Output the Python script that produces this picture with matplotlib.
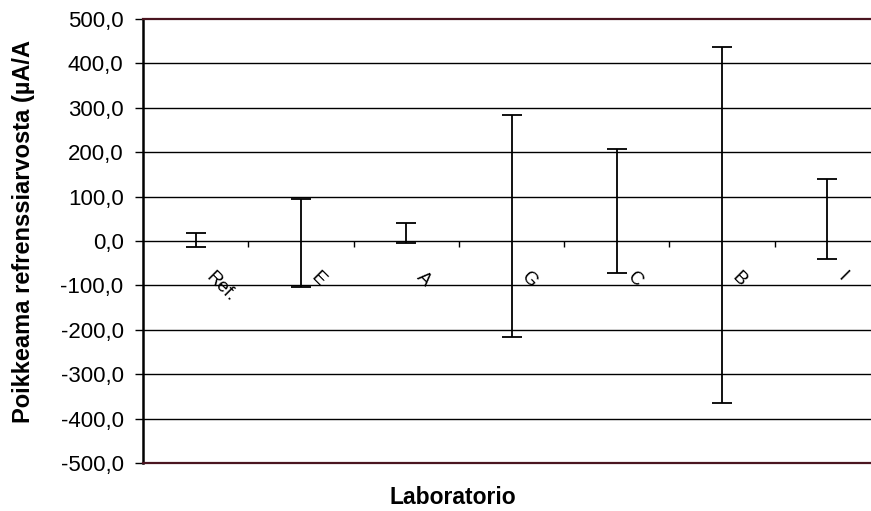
import matplotlib
matplotlib.use("Agg")
import matplotlib.pyplot as plt
import numpy as np

labs = ["Ref.", "E", "A", "G", "C", "B", "I"]
upper = [18, 95, 40, 283, 207, 436, 140]
lower = [-14, -103, -4, -216, -72, -364, -40]
yticks = list(range(-500, 501, 100))
ytick_labels = [f"{v:.1f}".replace(".", ",") for v in yticks]

plt.rcParams['font.family'] = ['Liberation Sans', 'DejaVu Sans']

fig = plt.figure(figsize=(8.71, 5.11), dpi=100)
W, H = 871, 511
left, right, top, bottom = 143, 880, 19, 463
ax = fig.add_axes([left / W, 1 - bottom / H, (right - left) / W, (bottom - top) / H])

x = np.arange(len(labs))
ax.set_xlim(-0.5, len(labs) - 0.5)
ax.set_ylim(-500, 500)

for yv in yticks:
    if -500 < yv < 500:
        ax.axhline(yv, color='black', lw=1.0, zorder=1)

mid = [(u + l) / 2 for u, l in zip(upper, lower)]
err = [[m - l for m, l in zip(mid, lower)], [u - m for u, m in zip(upper, mid)]]
ax.errorbar(x, mid, yerr=err, fmt='none', ecolor='black', elinewidth=1.3,
            capsize=7, capthick=1.3, zorder=3)

# category axis at y=0 with boundary ticks
ax.set_xticks([])
ax.vlines(np.arange(0.5, len(labs), 1.0), -14, 0, color='black', lw=1.0, zorder=2)

for xi, lab in zip(x, labs):
    ax.annotate(lab, xy=(xi, 0), xytext=(5.0, -20.0), textcoords='offset points',
                rotation=-45, ha='left', va='top', fontsize=13.5)

ax.set_yticks(yticks)
ax.set_yticklabels(ytick_labels, fontsize=16)
ax.tick_params(axis='y', direction='out', length=6, width=1.0, pad=8)

ax.spines['right'].set_visible(False)
ax.spines['left'].set_linewidth(1.8)
ax.spines['left'].set_color('black')
ax.spines['top'].set_color('#4a1520')
ax.spines['bottom'].set_color('#4a1520')
ax.spines['top'].set_linewidth(1.6)
ax.spines['bottom'].set_linewidth(1.6)

fig.text(453 / W, 1 - 497 / H, "Laboratorio", ha='center', va='center',
         fontsize=16.5, fontweight='bold')
fig.text(24 / W, 1 - 231 / H, "Poikkeama refrenssiarvosta (µA/A", ha='center', va='center',
         rotation=90, fontsize=17, fontweight='bold')

fig.savefig("out.png", dpi=100)
